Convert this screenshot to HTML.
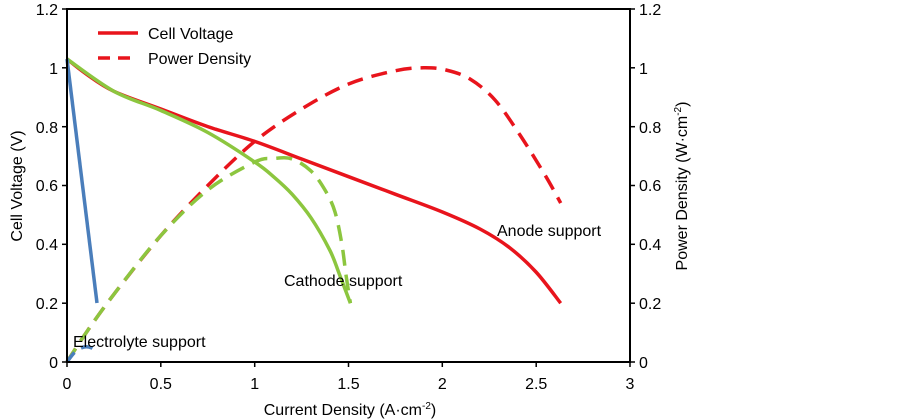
<!DOCTYPE html>
<html><head><meta charset="utf-8"><style>
html,body{margin:0;padding:0;background:#fff;}
svg{display:block;font-family:"Liberation Sans",Arial,sans-serif;}
</style></head><body>
<svg id="s" width="903" height="420" viewBox="0 0 903 420" xmlns="http://www.w3.org/2000/svg">
<rect width="903" height="420" fill="#fff"/>
<g fill="none" stroke-linejoin="round" stroke-linecap="butt">
<path id="av" stroke="#e8141c" stroke-width="3.5" data-p="67,59 85.8,73.7 113.9,91.3 160.9,109 207.8,126.6 254.7,141.4 301.6,159 348.6,176.7 395.5,194.3 442.4,212 480,229 510,248 536,272 560.7,303.2"/>
<path id="ap" stroke="#e8141c" stroke-width="3.5" stroke-dasharray="16,9" data-p="67,362 85.8,333.2 113.9,294.3 160.9,235.5 207.8,185.5 254.7,141.4 301.6,109 348.6,84 395.5,70.7 423.6,67.8 446,70 470,79 495,100 520,135 545,175 560.7,203.1"/>
<path id="cv" stroke="#8cc63f" stroke-width="3.5" data-p="67,59 113.9,91.3 160.9,110.5 207.8,132.5 254.7,162 273.5,176.7 292.2,194.3 311,217.8 329.8,250.2 339.2,273.7 350.4,303.2"/>
<path id="cp" stroke="#8cc63f" stroke-width="3.5" stroke-dasharray="16,9" data-p="67,362 85.8,333.2 113.9,294.3 160.9,235.5 207.8,189.9 254.7,162 273.5,158.5 292.2,159 311,171 325,190 335,212 342,245 346,275 350.4,303.2"/>
<path id="ev" stroke="#4a7ebb" stroke-width="3.5" d="M67,59 L97,303"/>
<path id="ep" stroke="#4a7ebb" stroke-width="3.5" stroke-dasharray="12,8" data-p="67,362 75,352 84,347 92,348 99,353"/>
</g>
<rect x="67" y="9" width="563" height="353" fill="none" stroke="#000" stroke-width="2"/>
<g stroke="#000" stroke-width="1.5">
<line x1="62" y1="9" x2="67" y2="9"/><line x1="62" y1="67.8" x2="67" y2="67.8"/><line x1="62" y1="126.7" x2="67" y2="126.7"/><line x1="62" y1="185.5" x2="67" y2="185.5"/><line x1="62" y1="244.3" x2="67" y2="244.3"/><line x1="62" y1="303.2" x2="67" y2="303.2"/><line x1="62" y1="362" x2="67" y2="362"/>
<line x1="630" y1="9" x2="635" y2="9"/><line x1="630" y1="67.8" x2="635" y2="67.8"/><line x1="630" y1="126.7" x2="635" y2="126.7"/><line x1="630" y1="185.5" x2="635" y2="185.5"/><line x1="630" y1="244.3" x2="635" y2="244.3"/><line x1="630" y1="303.2" x2="635" y2="303.2"/><line x1="630" y1="362" x2="635" y2="362"/>
<line x1="67" y1="362" x2="67" y2="367"/><line x1="160.8" y1="362" x2="160.8" y2="367"/><line x1="254.7" y1="362" x2="254.7" y2="367"/><line x1="348.5" y1="362" x2="348.5" y2="367"/><line x1="442.3" y1="362" x2="442.3" y2="367"/><line x1="536.2" y1="362" x2="536.2" y2="367"/><line x1="630" y1="362" x2="630" y2="367"/>
</g>
<g font-size="16" fill="#000" text-anchor="end">
<text x="58" y="15">1.2</text><text x="58" y="74">1</text><text x="58" y="133">0.8</text><text x="58" y="191">0.6</text><text x="58" y="250">0.4</text><text x="58" y="309">0.2</text><text x="58" y="368">0</text>
</g>
<g font-size="16" fill="#000" text-anchor="start">
<text x="639" y="15">1.2</text><text x="639" y="74">1</text><text x="639" y="133">0.8</text><text x="639" y="191">0.6</text><text x="639" y="250">0.4</text><text x="639" y="309">0.2</text><text x="639" y="368">0</text>
</g>
<g font-size="16" fill="#000" text-anchor="middle">
<text x="67" y="389">0</text><text x="160.8" y="389">0.5</text><text x="254.7" y="389">1</text><text x="348.5" y="389">1.5</text><text x="442.3" y="389">2</text><text x="536.2" y="389">2.5</text><text x="630" y="389">3</text>
<text x="350" y="415">Current Density (A·cm<tspan font-size="10" dy="-6">-2</tspan><tspan dy="6">)</tspan></text>
<text transform="translate(22,186) rotate(-90)">Cell Voltage (V)</text>
<text transform="translate(687,186) rotate(-90)">Power Density (W·cm<tspan font-size="10" dy="-6">-2</tspan><tspan dy="6">)</tspan></text>
</g>
<line x1="98" y1="33" x2="138" y2="33" stroke="#e8141c" stroke-width="3.5"/>
<line x1="98" y1="58" x2="138" y2="58" stroke="#e8141c" stroke-width="3.5" stroke-dasharray="12,8"/>
<g font-size="16" fill="#000">
<text x="148" y="39">Cell Voltage</text>
<text x="148" y="64">Power Density</text>
<text x="497" y="236">Anode support</text>
<text x="284" y="286">Cathode support</text>
<text x="73" y="347">Electrolyte support</text>
</g>
</svg>
<script>
document.querySelectorAll('path[data-p]').forEach(function(el){
 var p=el.getAttribute('data-p').trim().split(/\s+/).map(function(s){return s.split(',').map(Number);});
 var d='M'+p[0][0]+','+p[0][1];
 for(var i=0;i<p.length-1;i++){
  var p0=p[i-1]||p[i],p1=p[i],p2=p[i+1],p3=p[i+2]||p2;
  var c1x=p1[0]+(p2[0]-p0[0])/6,c1y=p1[1]+(p2[1]-p0[1])/6;
  var c2x=p2[0]-(p3[0]-p1[0])/6,c2y=p2[1]-(p3[1]-p1[1])/6;
  d+=' C'+c1x.toFixed(1)+','+c1y.toFixed(1)+' '+c2x.toFixed(1)+','+c2y.toFixed(1)+' '+p2[0]+','+p2[1];
 }
 el.setAttribute('d',d);
});
</script>
</body></html>
